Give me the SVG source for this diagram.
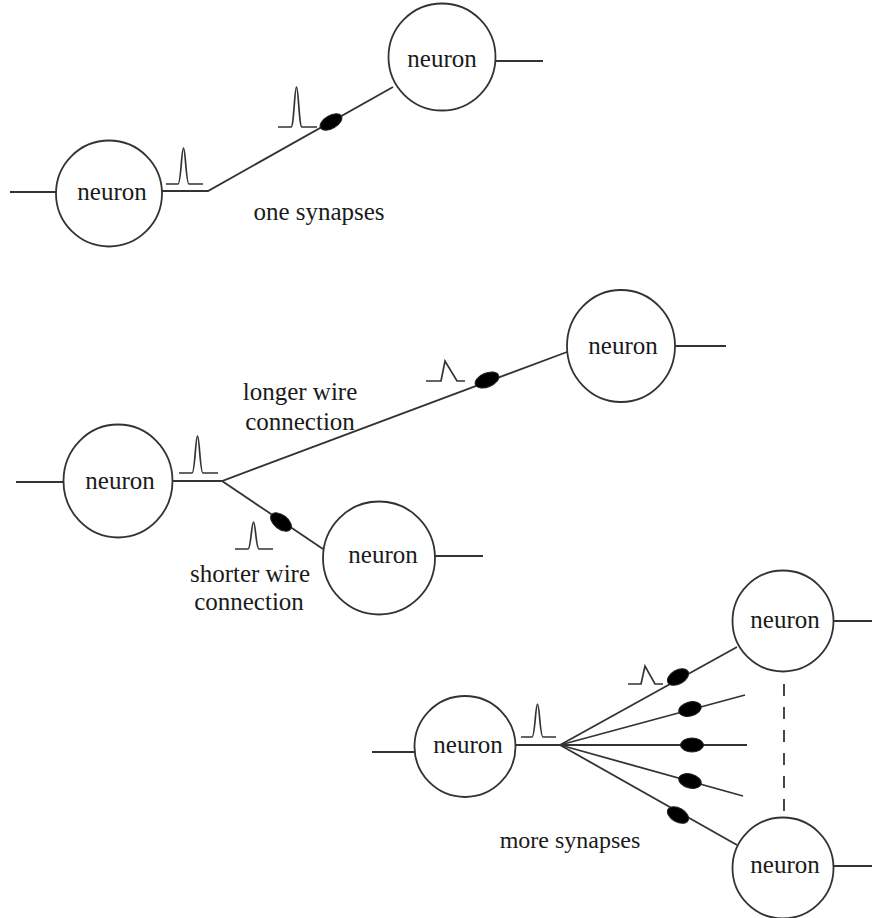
<svg xmlns="http://www.w3.org/2000/svg" width="872" height="918" viewBox="0 0 872 918">
<style>
.n{fill:#fff;stroke:#333;stroke-width:1.8}
.w{fill:none;stroke:#333;stroke-width:1.8}
.p{fill:none;stroke:#333;stroke-width:1.7;stroke-linejoin:miter}
.s{fill:#000;stroke:#222;stroke-width:1}
.t{font-family:"Liberation Serif","Times New Roman",serif;font-size:25px;fill:#1a1a1a;text-anchor:middle}
</style>
<rect width="872" height="918" fill="#fff"/>
<g id="connectors">
  <path class="w" d="M10,192 H56"/>
  <path class="w" d="M162,191 H208 L393,87"/>
  <path class="w" d="M495,61 H543"/>
  <path class="w" d="M16,482 H64"/>
  <path class="w" d="M173,481 H222 L567,352"/>
  <path class="w" d="M222,481 L323,549"/>
  <path class="w" d="M675,346 H726"/>
  <path class="w" d="M435,556 H483"/>
  <path class="w" d="M372,752 H415"/>
  <path class="w" d="M515,745 H560"/>
  <path class="w" d="M560,745 L737,647"/>
  <path class="w" d="M560,745 L745,695"/>
  <path class="w" d="M560,745 H747"/>
  <path class="w" d="M560,745 L743,796"/>
  <path class="w" d="M560,745 L737,845"/>
  <path class="w" d="M833,621 H872"/>
  <path class="w" d="M833,866 H872"/>
  <path class="w" d="M784,684 V813" stroke-dasharray="12,11"/>
</g>
<g id="synapses">
  <ellipse class="s" cx="331" cy="122" rx="12" ry="6.5" transform="rotate(-30 331 122)"/>
  <ellipse class="s" cx="487" cy="380" rx="12.5" ry="7" transform="rotate(-22 487 380)"/>
  <ellipse class="s" cx="281" cy="522" rx="12" ry="7" transform="rotate(38 281 522)"/>
  <ellipse class="s" cx="678" cy="677" rx="11.5" ry="7" transform="rotate(-30 678 677)"/>
  <ellipse class="s" cx="690" cy="709" rx="11.5" ry="7" transform="rotate(-15 690 709)"/>
  <ellipse class="s" cx="692" cy="745" rx="11.5" ry="7"/>
  <ellipse class="s" cx="690" cy="781" rx="11.5" ry="7" transform="rotate(15 690 781)"/>
  <ellipse class="s" cx="678" cy="815" rx="11.5" ry="7" transform="rotate(30 678 815)"/>
</g>
<g id="pulses">
  <path class="p" d="M166,184 H178 C181,184 181.5,148 183.5,148 C185.5,148 186,184 189,184 H203"/>
  <path class="p" d="M278,127 H291 C294,127 294.5,87 296.5,87 C298.5,87 299,127 302,127 H317"/>
  <path class="p" d="M179,473 H192 C195,473 195.5,436 197.5,436 C199.5,436 200,473 203,473 H218"/>
  <path class="p" d="M426,381 H441 L445,361 L457,381 H465"/>
  <path class="p" d="M235,549 H248 C251,549 251.5,522 253.5,522 C255.5,522 256,549 259,549 H273"/>
  <path class="p" d="M521,737 H532 C535,737 535.5,704 537.5,704 C539.5,704 540,737 543,737 H556"/>
  <path class="p" d="M628,684 H641 L645,666 L655,684 H663"/>
</g>
<g id="n1"><circle class="n" cx="109" cy="193.5" r="53"/><text class="t" x="112" y="200">neuron</text></g>
<g id="n2"><circle class="n" cx="442" cy="57" r="53.5"/><text class="t" x="442" y="67">neuron</text></g>
<g id="n3"><ellipse class="n" cx="118" cy="481" rx="54.5" ry="56.5"/><text class="t" x="120" y="489">neuron</text></g>
<g id="n4"><ellipse class="n" cx="621" cy="346" rx="54" ry="56"/><text class="t" x="623" y="354">neuron</text></g>
<g id="n5"><ellipse class="n" cx="379" cy="558" rx="56" ry="56.5"/><text class="t" x="383" y="563">neuron</text></g>
<g id="n6"><circle class="n" cx="465" cy="746.5" r="50.5"/><text class="t" x="468" y="753">neuron</text></g>
<g id="n7"><circle class="n" cx="783" cy="621" r="50.5"/><text class="t" x="785" y="628">neuron</text></g>
<g id="n8"><circle class="n" cx="783" cy="868" r="50.5"/><text class="t" x="785" y="873">neuron</text></g>
<g id="labels">
  <text class="t" x="319" y="220">one synapses</text>
  <text class="t" x="300" y="400">longer wire</text>
  <text class="t" x="300" y="430">connection</text>
  <text class="t" x="250" y="582">shorter wire</text>
  <text class="t" x="249" y="610">connection</text>
  <text class="t" x="570" y="848" style="font-size:24px">more synapses</text>
</g>
</svg>
